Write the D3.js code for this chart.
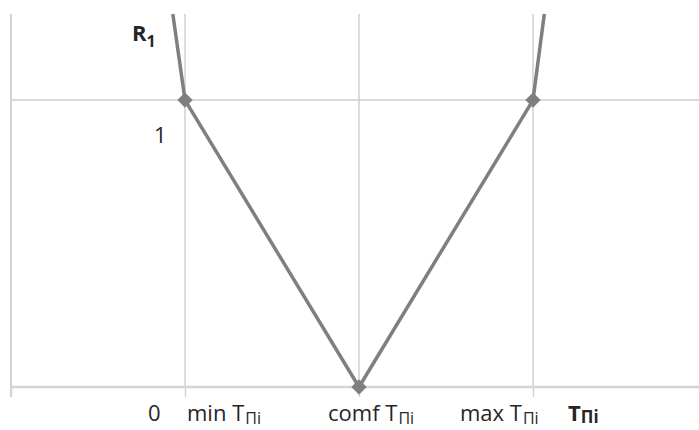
<!DOCTYPE html>
<html>
<head>
<meta charset="utf-8">
<script src="https://cdn.jsdelivr.net/npm/d3@7"></script>
<style>
	body { margin: 0; background: #fff; }
	svg { display: block; }
	text { font-family: 'Open Sans', sans-serif; fill: #262626; }
</style>
</head>
<body>
<svg id="chart" width="699" height="430"></svg>
<script>
// Curve points (x in category units, y = R1)
const curveX = [0.93, 1, 2, 3, 3.065];
const curveY = [1.3, 1, 0, 1, 1.3];

// Which points carry a diamond marker
const markerIdx = [1, 2, 3];

// Axis ticks
const xTicks = [0, 1, 2, 3, 4];
const xGrid = [1, 2, 3];
const yGrid = [1];

// Hand placed labels under the axis
const xLabels = [
	{ at: 1, dx: -37, main: "0", sub: "" },
	{ at: 1, dx: 2, main: "min T", sub: "\u041Fi" },
	{ at: 2, dx: -31, main: "comf T", sub: "\u041Fi" },
	{ at: 3, dx: -73, main: "max T", sub: "\u041Fi" }
];

const svg = d3.select("#chart");
const width = 699, height = 430;

const x = d3.scaleLinear().domain([0, 4]).range([11, 707]);
const y = d3.scaleLinear().domain([0, 1.3]).range([387, 14]);

const g = svg.append("g");

// vertical gridlines
g.selectAll(".vgrid")
	.data(xGrid)
	.enter().append("line")
		.attr("class", "vgrid")
		.attr("x1", d => x(d)).attr("x2", d => x(d))
		.attr("y1", y(1.3)).attr("y2", y(0))
		.attr("stroke", "#cfcfcf")
		.attr("stroke-width", 1.5);

// horizontal gridlines
g.selectAll(".hgrid")
	.data(yGrid)
	.enter().append("line")
		.attr("class", "hgrid")
		.attr("x1", x(0)).attr("x2", width)
		.attr("y1", d => y(d)).attr("y2", d => y(d))
		.attr("stroke", "#cfcfcf")
		.attr("stroke-width", 1.5);

// Y axis line
g.append("line")
	.attr("x1", x(0)).attr("x2", x(0))
	.attr("y1", y(1.3)).attr("y2", y(0) + 10)
	.attr("stroke", "#d4d4d4")
	.attr("stroke-width", 2);

// X axis with ticks below
const xAxis = g.append("g")
	.attr("transform", "translate(0," + y(0) + ")")
	.call(d3.axisBottom(x).tickValues(xTicks).tickSize(10).tickSizeOuter(0).tickFormat(""));
xAxis.select(".domain")
	.attr("d", "M" + x(0) + ",0H" + width)
	.attr("stroke", "#d4d4d4")
	.attr("stroke-width", 2.5);
xAxis.selectAll(".tick line")
	.attr("stroke", "#d4d4d4")
	.attr("stroke-width", 1.5);

// Line
const pts = curveX.map((d, i) => ({ x: d, y: curveY[i] }));
const line = d3.line()
	.x(d => x(d.x))
	.y(d => y(d.y));

g.append("path")
	.datum(pts)
	.attr("fill", "none")
	.attr("stroke", "#7f7f7f")
	.attr("stroke-width", 3.5)
	.attr("stroke-linejoin", "round")
	.attr("d", line);

// Markers
g.selectAll(".marker")
	.data(markerIdx.map(i => pts[i]))
	.enter().append("path")
		.attr("class", "marker")
		.attr("transform", d => "translate(" + x(d.x) + "," + y(d.y) + ")")
		.attr("d", d3.symbol().type(d3.symbolDiamond2).size(150))
		.attr("fill", "#7f7f7f");

// Axis labels
const lab = svg.selectAll(".xlab")
	.data(xLabels)
	.enter().append("text")
		.attr("class", "xlab")
		.attr("x", d => x(d.at) + d.dx)
		.attr("y", y(0) + 34)
		.style("font-size", "22px");
lab.append("tspan").text(d => d.main);
lab.append("tspan")
	.attr("dx", 1)
	.attr("dy", 3)
	.style("font-size", "16px")
	.text(d => d.sub);

// axis title T_Пi
const tt = svg.append("text")
	.attr("x", x(3) + 35)
	.attr("y", y(0) + 34)
	.style("font-size", "22px")
	.style("font-weight", "bold");
tt.append("tspan").text("T");
tt.append("tspan").attr("dy", 2).style("font-size", "17px").text("\u041Fi");

// "1" next to the min point
svg.append("text")
	.attr("x", x(1) - 31)
	.attr("y", y(1) + 43)
	.style("font-size", "22px")
	.text("1");

// R1 title
const rt = svg.append("text")
	.attr("x", x(1) - 53)
	.attr("y", y(1.3) + 27)
	.style("font-size", "22px")
	.style("font-weight", "bold");
rt.append("tspan").text("R");
rt.append("tspan").attr("dy", 6).style("font-size", "16px").text("1");
</script>
</body>
</html>
